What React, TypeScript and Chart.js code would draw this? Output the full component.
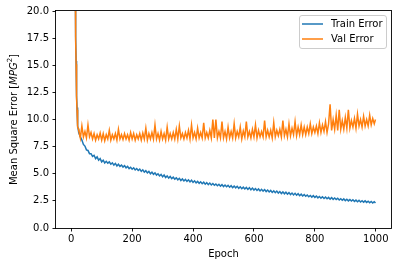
import React, { useEffect, useRef } from 'react';
import { Chart, registerables } from 'chart.js';
Chart.register(...registerables);

const epochs = [
  0, 1, 2, 3, 4, 5, 6, 7, 8, 9, 10, 11, 12, 13, 14, 15, 16, 17, 18, 19, 20, 21, 22, 23, 24,
  25, 30, 35, 40, 45, 50, 55, 60, 65, 70,
  75, 80, 85, 90, 95, 100, 105, 110, 115, 120,
  125, 130, 135, 140, 145, 150, 155, 160, 165, 170,
  175, 180, 185, 190, 195, 200, 205, 210, 215, 220,
  225, 230, 235, 240, 245, 250, 255, 260, 265, 270,
  275, 280, 285, 290, 295, 300, 305, 310, 315, 320,
  325, 330, 335, 340, 345, 350, 355, 360, 365, 370,
  375, 380, 385, 390, 395, 400, 405, 410, 415, 420,
  425, 430, 435, 440, 445, 450, 455, 460, 465, 470,
  475, 480, 485, 490, 495, 500, 505, 510, 515, 520,
  525, 530, 535, 540, 545, 550, 555, 560, 565, 570,
  575, 580, 585, 590, 595, 600, 605, 610, 615, 620,
  625, 630, 635, 640, 645, 650, 655, 660, 665, 670,
  675, 680, 685, 690, 695, 700, 705, 710, 715, 720,
  725, 730, 735, 740, 745, 750, 755, 760, 765, 770,
  775, 780, 785, 790, 795, 800, 805, 810, 815, 820,
  825, 830, 835, 840, 845, 850, 855, 860, 865, 870,
  875, 880, 885, 890, 895, 900, 905, 910, 915, 920,
  925, 930, 935, 940, 945, 950, 955, 960, 965, 970,
  975, 980, 985, 990, 995, 999,
];

const trainError = [
  565, 548, 522, 486, 440, 384, 318, 248, 180, 122, 78, 50, 34, 25, 20.5, 17.6, 15.4, 13.6, 12.2, 11.1, 10.3, 9.8, 9.4, 9.1, 8.9,
  8.8, 8.4, 8.1, 7.7, 7.55, 7.2, 7.15, 6.85, 6.85, 6.6,
  6.7, 6.4, 6.55, 6.25, 6.4, 6.1, 6.25, 6.0, 6.15, 5.98,
  6.1, 5.88, 6.0, 5.8, 5.95, 5.72, 5.88, 5.68, 5.8, 5.62,
  5.75, 5.55, 5.68, 5.48, 5.6, 5.42, 5.55, 5.35, 5.48, 5.3,
  5.42, 5.22, 5.36, 5.15, 5.28, 5.08, 5.22, 5.0, 5.15, 4.95,
  5.08, 4.88, 5.0, 4.8, 4.94, 4.72, 4.88, 4.66, 4.8, 4.6,
  4.75, 4.55, 4.68, 4.5, 4.62, 4.44, 4.58, 4.38, 4.52, 4.34,
  4.48, 4.3, 4.44, 4.25, 4.4, 4.2, 4.35, 4.16, 4.3, 4.12,
  4.26, 4.08, 4.22, 4.04, 4.18, 4.0, 4.14, 3.97, 4.1, 3.94,
  4.06, 3.9, 4.03, 3.86, 4.0, 3.82, 3.96, 3.8, 3.93, 3.76,
  3.9, 3.72, 3.86, 3.7, 3.84, 3.66, 3.8, 3.62, 3.76, 3.6,
  3.74, 3.56, 3.72, 3.52, 3.68, 3.5, 3.64, 3.46, 3.6, 3.42,
  3.57, 3.4, 3.54, 3.36, 3.5, 3.32, 3.46, 3.28, 3.42, 3.25,
  3.4, 3.22, 3.36, 3.18, 3.33, 3.15, 3.3, 3.12, 3.26, 3.08,
  3.22, 3.05, 3.2, 3.02, 3.16, 2.98, 3.12, 2.95, 3.08, 2.92,
  3.04, 2.88, 3.0, 2.85, 2.98, 2.82, 2.94, 2.78, 2.9, 2.75,
  2.88, 2.72, 2.85, 2.7, 2.82, 2.66, 2.8, 2.64, 2.76, 2.62,
  2.74, 2.58, 2.7, 2.56, 2.68, 2.52, 2.65, 2.5, 2.62, 2.48,
  2.6, 2.45, 2.57, 2.42, 2.55, 2.4, 2.52, 2.38, 2.5, 2.36,
  2.47, 2.33, 2.45, 2.31, 2.42, 2.3,
];

const valError = [
  545, 530, 505, 470, 425, 370, 305, 238, 172, 116, 74, 48, 33, 24.5, 20.2, 17.3, 15.1, 13.4, 12.0, 10.9, 10.1, 9.6, 9.3, 9.2, 9.0,
  9.1, 8.3, 9.4, 8.4, 8.9, 8.3, 9.5, 8.4, 8.8, 8.2,
  8.7, 8.1, 8.6, 8.2, 8.75, 8.1, 8.7, 8.05, 8.6, 8.2,
  9.0, 8.1, 8.6, 8.2, 8.7, 8.1, 9.1, 8.2, 8.6, 8.15,
  8.7, 8.2, 8.6, 8.1, 8.8, 8.2, 8.7, 8.1, 8.6, 8.2,
  8.7, 8.1, 8.75, 8.2, 9.2, 8.1, 8.7, 8.2, 8.8, 8.2,
  9.5, 8.2, 8.7, 8.1, 8.9, 8.2, 8.7, 8.1, 9.3, 8.2,
  8.7, 8.2, 8.8, 8.2, 9.1, 8.2, 9.4, 8.3, 8.7, 8.2,
  8.8, 8.3, 9.0, 8.2, 9.5, 8.3, 8.8, 8.2, 9.2, 8.3,
  8.8, 8.3, 9.7, 8.3, 8.8, 8.3, 9.0, 8.3, 10.0, 8.3,
  10.0, 8.3, 8.9, 8.3, 9.8, 8.3, 8.9, 8.2, 9.3, 8.3,
  8.9, 8.3, 9.6, 8.3, 8.9, 8.4, 9.3, 8.2, 8.95, 8.4,
  9.8, 8.4, 8.9, 8.3, 9.1, 8.4, 9.5, 8.3, 9.0, 8.4,
  8.9, 8.4, 9.9, 8.4, 9.0, 8.4, 9.0, 8.3, 9.7, 8.4,
  9.0, 8.5, 9.1, 8.4, 9.9, 8.5, 9.1, 8.4, 9.6, 8.5,
  9.2, 8.6, 9.8, 8.5, 9.3, 8.6, 9.5, 8.6, 9.3, 8.6,
  9.3, 8.7, 9.6, 8.7, 9.3, 8.8, 9.4, 8.7, 9.7, 8.8,
  9.5, 8.9, 9.8, 8.8, 9.6, 11.4, 9.0, 10.0, 9.1, 10.4,
  9.0, 10.9, 9.1, 9.9, 9.1, 10.2, 9.2, 10.9, 9.2, 9.9,
  9.3, 10.1, 9.2, 10.5, 9.4, 10.0, 9.3, 10.3, 9.4, 10.0,
  9.4, 10.4, 9.5, 10.1, 9.6, 10.0,
];

const xTicks = [0, 200, 400, 600, 800, 1000];
const yTicks = [0, 2.5, 5, 7.5, 10, 12.5, 15, 17.5, 20];
const seriesLabels = ['Train Error', 'Val Error'];
const seriesColors = ['#1f77b4', '#ff7f0e'];
const xLabel = 'Epoch';

const FONT = '"DejaVu Sans"';

const decorPlugin = {
  id: 'decor',
  afterDraw(chart: any) {
    const { ctx, chartArea: a } = chart;
    ctx.save();
    ctx.strokeStyle = '#000';
    ctx.lineWidth = 0.9;
    ctx.strokeRect(Math.round(a.left) - 0.5, Math.round(a.top) - 0.5, Math.round(a.right - a.left) + 1, Math.round(a.bottom - a.top) + 1);

    ctx.fillStyle = '#000';
    ctx.font = `10px ${FONT}`;
    ctx.textAlign = 'center';
    ctx.textBaseline = 'middle';
    ctx.fillText(xLabel, (a.left + a.right) / 2, 254);

    const parts = [
      { t: 'Mean Square Error [', f: `10px ${FONT}`, dy: 0 },
      { t: 'MPG', f: `italic 10px ${FONT}`, dy: 0 },
      { t: '2', f: `7px ${FONT}`, dy: -4 },
      { t: ']', f: `10px ${FONT}`, dy: 0 },
    ];
    let total = 0;
    const widths = parts.map((p) => {
      ctx.font = p.f;
      const w = ctx.measureText(p.t).width;
      total += w;
      return w;
    });
    ctx.translate(14, (a.top + a.bottom) / 2);
    ctx.rotate(-Math.PI / 2);
    ctx.textAlign = 'left';
    ctx.textBaseline = 'middle';
    let x = -total / 2;
    parts.forEach((p, i) => {
      ctx.font = p.f;
      ctx.fillText(p.t, x, p.dy);
      x += widths[i];
    });
    ctx.restore();

    ctx.save();
    const bx = 299.5, by = 15.5, bw = 87, bh = 33, r = 2.5;
    ctx.beginPath();
    ctx.moveTo(bx + r, by);
    ctx.lineTo(bx + bw - r, by);
    ctx.quadraticCurveTo(bx + bw, by, bx + bw, by + r);
    ctx.lineTo(bx + bw, by + bh - r);
    ctx.quadraticCurveTo(bx + bw, by + bh, bx + bw - r, by + bh);
    ctx.lineTo(bx + r, by + bh);
    ctx.quadraticCurveTo(bx, by + bh, bx, by + bh - r);
    ctx.lineTo(bx, by + r);
    ctx.quadraticCurveTo(bx, by, bx + r, by);
    ctx.closePath();
    ctx.fillStyle = 'rgba(255,255,255,0.8)';
    ctx.fill();
    ctx.strokeStyle = '#cccccc';
    ctx.lineWidth = 1;
    ctx.stroke();
    const rows = [24, 39];
    seriesLabels.forEach((lab, i) => {
      ctx.strokeStyle = seriesColors[i];
      ctx.lineWidth = 1.5;
      ctx.beginPath();
      ctx.moveTo(302, rows[i]);
      ctx.lineTo(323, rows[i]);
      ctx.stroke();
      ctx.fillStyle = '#000';
      ctx.font = `10px ${FONT}`;
      ctx.textAlign = 'left';
      ctx.textBaseline = 'middle';
      ctx.fillText(lab, 331, rows[i]);
    });
    ctx.restore();
  },
};

export default function App() {
  const ref = useRef<HTMLCanvasElement | null>(null);
  useEffect(() => {
    document.body.style.margin = '0';
    const canvas = ref.current!;
    const chart = new Chart(canvas, {
      type: 'line',
      data: {
        datasets: [
          {
            label: seriesLabels[0],
            data: epochs.map((e, i) => ({ x: e, y: trainError[i] })),
            borderColor: seriesColors[0],
            borderWidth: 1.5,
            pointRadius: 0,
            tension: 0,
            order: 1,
          },
          {
            label: seriesLabels[1],
            data: epochs.map((e, i) => ({ x: e, y: valError[i] })),
            borderColor: seriesColors[1],
            borderWidth: 1.5,
            pointRadius: 0,
            tension: 0,
            order: 0,
          },
        ],
      },
      options: {
        responsive: false,
        animation: false,
        devicePixelRatio: 1,
        layout: { padding: { top: 11, right: 7, left: 0, bottom: 0 } },
        plugins: { legend: { display: false }, tooltip: { enabled: false }, title: { display: false } },
        scales: {
          x: {
            type: 'linear',
            min: -50,
            max: 1050,
            afterBuildTicks: (s: any) => {
              s.ticks = xTicks.map((v) => ({ value: v }));
            },
            afterFit: (s: any) => {
              s.height = 38;
            },
            ticks: {
              autoSkip: false,
              maxRotation: 0,
              padding: 2,
              color: '#000',
              font: { family: 'DejaVu Sans', size: 10 },
              callback: (v: any) => String(v),
            },
            grid: { drawOnChartArea: false, drawTicks: true, tickLength: 3.5, tickColor: '#000', tickWidth: 0.9 },
            border: { display: false },
          },
          y: {
            type: 'linear',
            min: 0,
            max: 20,
            afterBuildTicks: (s: any) => {
              s.ticks = yTicks.map((v) => ({ value: v }));
            },
            afterFit: (s: any) => {
              s.width = 56;
            },
            ticks: {
              autoSkip: false,
              padding: 3.5,
              color: '#000',
              font: { family: 'DejaVu Sans', size: 10 },
              callback: (v: any) => Number(v).toFixed(1),
            },
            grid: { drawOnChartArea: false, drawTicks: true, tickLength: 3.5, tickColor: '#000', tickWidth: 0.9 },
            border: { display: false },
          },
        },
      },
      plugins: [decorPlugin],
    });
    return () => chart.destroy();
  }, []);
  return (
    <div style={{ position: 'fixed', left: 0, top: 0, width: 398, height: 266, background: '#fff' }}>
      <canvas ref={ref} width={398} height={266} style={{ width: 398, height: 266, display: 'block' }} />
    </div>
  );
}
